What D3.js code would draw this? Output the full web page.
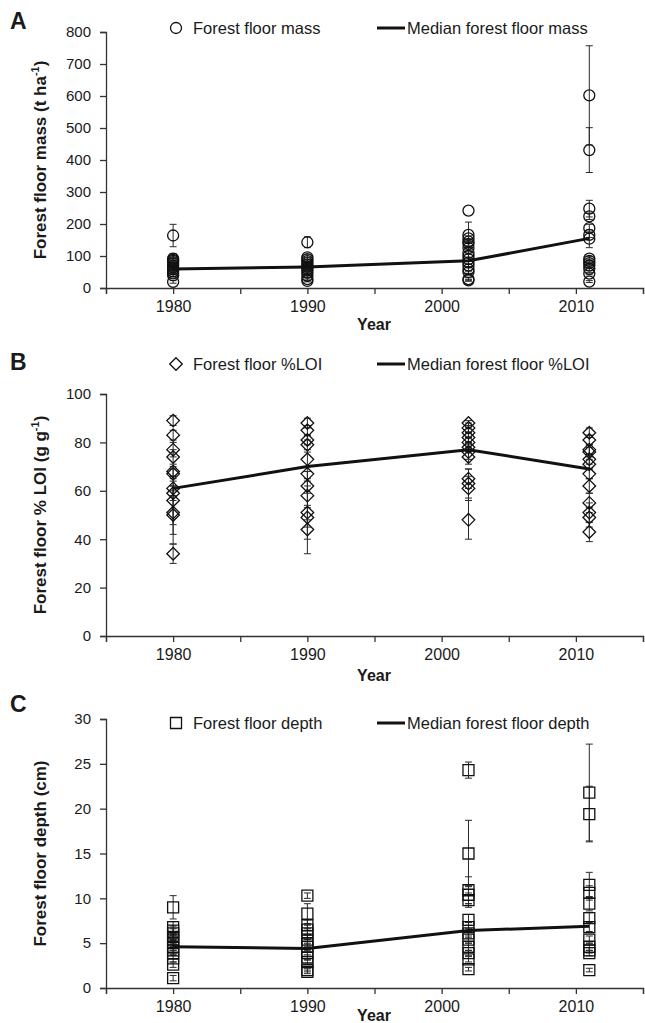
<!DOCTYPE html>
<html>
<head>
<meta charset="utf-8">
<script src="https://cdn.jsdelivr.net/npm/d3@7"></script>
<style>
    body { margin: 0; background: #fff; }
    svg text { font-family: "Liberation Sans", Arial, sans-serif; fill: #1a1a1a; }
</style>
</head>
<body>
<div id="chart"></div>
<script>
// sampling years (x position of each column of points)
const years = [1980, 1990, 2002, 2011];
const yearTicks = [1975, 1980, 1985, 1990, 1995, 2000, 2005, 2010, 2015];
const yearLabels = [1980, 1990, 2000, 2010];

// panel A: forest floor mass (t/ha), one list per year, errors are +/- half widths
const massValues = [
    [164, 92, 88, 85, 81, 76, 70, 64, 58, 52, 46, 40, 19],
    [143, 96, 90, 84, 78, 72, 66, 60, 54, 47, 38, 28, 22],
    [242, 166, 155, 145, 138, 125, 110, 100, 90, 80, 70, 58, 50, 28, 24],
    [602, 431, 248, 224, 187, 166, 154, 92, 85, 78, 70, 60, 45, 20]
];
const massErrors = [
    [35, 16, 6, 5, 5, 4, 5, 4, 6, 5, 4, 5, 4],
    [17, 8, 6, 5, 4, 5, 4, 5, 4, 4, 5, 4, 3],
    [0, 40, 8, 6, 7, 6, 5, 6, 5, 6, 5, 5, 4, 4, 3],
    [155, 70, 26, 10, 12, 8, 28, 6, 5, 6, 5, 5, 4, 3]
];
const massMedians = [59, 66, 85, 155];
const massTicks = [0, 100, 200, 300, 400, 500, 600, 700, 800];

// panel B: forest floor %LOI
const loiValues = [
    [89, 83, 77, 74, 68, 67, 61, 59, 56, 51, 50, 34],
    [88, 85, 81, 79, 73, 67, 62, 58, 51, 49, 44],
    [88, 86, 84, 82, 80, 78, 76, 74, 65, 63, 61, 48],
    [84, 81, 77, 76, 73, 71, 67, 62, 55, 51, 49, 43]
];
const loiErrors = [
    [2, 2, 3, 3, 2, 2, 3, 3, 10, 9, 12, 4],
    [2, 2, 2, 2, 3, 3, 3, 4, 17, 4, 4],
    [1, 2, 2, 2, 2, 2, 3, 3, 4, 6, 5, 8],
    [2, 2, 2, 2, 2, 2, 2, 3, 4, 4, 4, 4]
];
const loiMedians = [61, 70, 77, 69];
const loiTicks = [0, 20, 40, 60, 80, 100];

// panel C: forest floor depth (cm)
const depthValues = [
    [9.0, 6.8, 6.4, 6.1, 5.7, 5.4, 5.0, 4.6, 4.2, 3.9, 3.3, 2.6, 1.1],
    [10.3, 8.3, 7.0, 6.5, 6.1, 5.4, 5.0, 4.6, 3.9, 3.4, 2.9, 2.0, 1.8],
    [24.3, 15.0, 10.9, 10.4, 9.8, 7.6, 6.8, 6.1, 5.4, 4.6, 3.9, 3.2, 2.1],
    [21.8, 19.4, 11.5, 10.6, 9.4, 7.8, 6.8, 5.4, 4.6, 4.2, 3.9, 2.0]
];
const depthErrors = [
    [1.3, 0.6, 0.5, 0.5, 0.4, 0.5, 0.4, 0.4, 0.4, 0.3, 0.4, 0.3, 0.3],
    [0.3, 1.1, 0.6, 0.5, 0.5, 0.5, 0.4, 0.4, 0.4, 0.3, 0.3, 0.2, 0.2],
    [0.9, 3.7, 1.5, 1.0, 0.8, 0.6, 0.5, 0.5, 0.4, 0.4, 0.3, 0.3, 0.2],
    [5.4, 3.1, 1.4, 0.8, 0.8, 0.6, 0.5, 0.4, 0.4, 0.3, 0.3, 0.2]
];
const depthMedians = [4.6, 4.4, 6.4, 6.9];
const depthTicks = [0, 5, 10, 15, 20, 25, 30];

const svgWidth = 645;
const svgHeight = 1023;
const plotLeft = 106;
const plotRight = 643;

const svg = d3.select('#chart')
    .append('svg')
    .attr('width', svgWidth)
    .attr('height', svgHeight);

const xScale = d3.scaleLinear()
    .domain([1975, 2015])
    .range([plotLeft, plotRight]);

function markerPath(shape, size) {
    if (shape === 'circle') {
        return d3.symbol(d3.symbolCircle, Math.PI * size * size / 4)();
    }
    if (shape === 'square') {
        return d3.symbol(d3.symbolSquare, size * size)();
    }
    // diamond: square turned by 45 degrees
    const h = size / 2 + 0.8;
    return `M0,${-h}L${h},0L0,${h}L${-h},0Z`;
}

function drawPanel(p) {
    const yScale = d3.scaleLinear()
        .domain([0, p.ticks[p.ticks.length - 1]])
        .range([p.bottom, p.top]);

    const g = svg.append('g');

    // axes
    g.append('g')
        .attr('transform', `translate(0, ${p.bottom})`)
        .call(d3.axisBottom(xScale)
            .tickValues(yearTicks)
            .tickSize(6)
            .tickPadding(7)
            .tickFormat(d => yearLabels.includes(d) ? d : ''))
        .call(a => a.selectAll('text').attr('font-size', 16))
        .call(a => a.select('.domain').attr('stroke', '#333').attr('stroke-width', 1.3))
        .call(a => a.selectAll('line').attr('stroke', '#333').attr('stroke-width', 1.3));

    g.append('g')
        .attr('transform', `translate(${plotLeft}, 0)`)
        .call(d3.axisLeft(yScale)
            .tickValues(p.ticks)
            .tickSize(6)
            .tickPadding(9))
        .call(a => a.selectAll('text').attr('font-size', 15))
        .call(a => a.select('.domain').attr('stroke', '#333').attr('stroke-width', 1.3))
        .call(a => a.selectAll('line').attr('stroke', '#333').attr('stroke-width', 1.3));

    // flatten points for drawing
    const points = [];
    years.forEach((yr, i) => {
        p.values[i].forEach((v, j) => {
            points.push({ year: yr, value: v, err: p.errors[i][j] });
        });
    });

    // error bars
    const bars = g.append('g')
        .attr('stroke', '#2a2a2a')
        .attr('stroke-width', 1);
    points.filter(d => d.err > 0).forEach(d => {
        const x = xScale(d.year);
        const y1 = yScale(d.value - d.err);
        const y2 = yScale(d.value + d.err);
        bars.append('line').attr('x1', x).attr('x2', x).attr('y1', y1).attr('y2', y2);
        bars.append('line').attr('x1', x - 3.5).attr('x2', x + 3.5).attr('y1', y1).attr('y2', y1);
        bars.append('line').attr('x1', x - 3.5).attr('x2', x + 3.5).attr('y1', y2).attr('y2', y2);
    });

    // markers
    g.append('g')
        .selectAll('path')
        .data(points)
        .join('path')
        .attr('d', markerPath(p.shape, 11))
        .attr('transform', d => `translate(${xScale(d.year)}, ${yScale(d.value)})`)
        .attr('fill', 'none')
        .attr('stroke', '#111')
        .attr('stroke-width', 1.3);

    // median line
    const medianLine = d3.line()
        .x((d, i) => xScale(years[i]))
        .y(d => yScale(d));
    g.append('path')
        .attr('d', medianLine(p.medians))
        .attr('fill', 'none')
        .attr('stroke', '#111')
        .attr('stroke-width', 3);

    // panel letter
    g.append('text')
        .attr('x', 10)
        .attr('y', p.letterY)
        .attr('font-size', 23)
        .attr('font-weight', 'bold')
        .text(p.letter);

    // legend
    g.append('path')
        .attr('d', markerPath(p.shape, 11))
        .attr('transform', `translate(176, ${p.legendY})`)
        .attr('fill', 'none')
        .attr('stroke', '#111')
        .attr('stroke-width', 1.3);
    g.append('text')
        .attr('x', 193)
        .attr('y', p.legendY + 6)
        .attr('font-size', 16.5)
        .text(p.pointLabel);
    g.append('line')
        .attr('x1', 377).attr('x2', 405)
        .attr('y1', p.legendY).attr('y2', p.legendY)
        .attr('stroke', '#111')
        .attr('stroke-width', 3);
    g.append('text')
        .attr('x', 407)
        .attr('y', p.legendY + 6)
        .attr('font-size', 16.5)
        .text(p.lineLabel);

    // y title
    const yTitle = g.append('text')
        .attr('transform', `translate(46, ${(p.top + p.bottom) / 2}) rotate(-90)`)
        .attr('text-anchor', 'middle')
        .attr('font-size', 17)
        .attr('font-weight', 'bold');
    yTitle.append('tspan').text(p.yTitle);
    if (p.ySup) {
        yTitle.append('tspan').attr('font-size', 11).attr('dy', -7).text(p.ySup);
        yTitle.append('tspan').attr('dy', 7).text(')');
    }

    // x title
    g.append('text')
        .attr('x', 374)
        .attr('y', p.yearY)
        .attr('text-anchor', 'middle')
        .attr('font-size', 16)
        .attr('font-weight', 'bold')
        .text('Year');
}

drawPanel({
    letter: 'A', letterY: 29, legendY: 28, top: 32, bottom: 288, yearY: 330,
    ticks: massTicks, values: massValues, errors: massErrors, medians: massMedians,
    shape: 'circle', pointLabel: 'Forest floor mass', lineLabel: 'Median forest floor mass',
    yTitle: 'Forest floor mass (t ha', ySup: '-1'
});

drawPanel({
    letter: 'B', letterY: 370, legendY: 364, top: 394, bottom: 636, yearY: 681,
    ticks: loiTicks, values: loiValues, errors: loiErrors, medians: loiMedians,
    shape: 'diamond', pointLabel: 'Forest floor %LOI', lineLabel: 'Median forest floor %LOI',
    yTitle: 'Forest floor % LOI (g g', ySup: '-1'
});

drawPanel({
    letter: 'C', letterY: 712, legendY: 723, top: 719, bottom: 988, yearY: 1021,
    ticks: depthTicks, values: depthValues, errors: depthErrors, medians: depthMedians,
    shape: 'square', pointLabel: 'Forest floor depth', lineLabel: 'Median  forest floor  depth',
    yTitle: 'Forest floor depth (cm)'
});
</script>
</body>
</html>
